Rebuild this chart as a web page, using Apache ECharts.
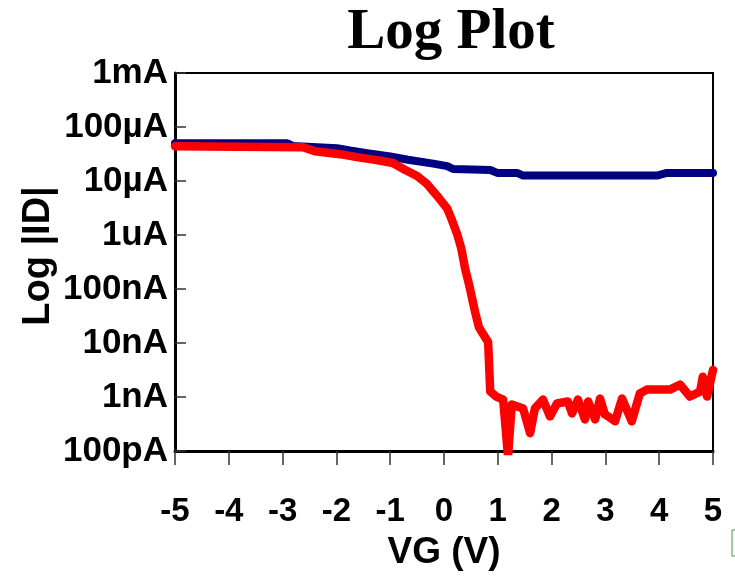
<!DOCTYPE html>
<html>
<head>
<meta charset="utf-8">
<script src="https://cdn.jsdelivr.net/npm/echarts@6/dist/echarts.min.js"></script>
<style>
  html, body { margin: 0; padding: 0; background: #fff; }
  #chart { width: 735px; height: 576px; }
</style>
</head>
<body>
<div id="chart"></div>
<script>
// Gate voltage sweep (V) and drain current magnitude (A)
const vgBlue = [-5.00, -2.92, -2.81, -1.99, -1.75, -1.43, -1.00, -0.67, -0.20, 0.06, 0.17, 0.86, 0.99, 1.36, 1.47, 3.96, 4.14, 5.00];
const idBlue = [5.0e-5, 5.0e-5, 4.46e-5, 4.05e-5, 3.67e-5, 3.28e-5, 2.85e-5, 2.47e-5, 2.10e-5, 1.89e-5, 1.67e-5, 1.60e-5, 1.41e-5, 1.41e-5, 1.26e-5, 1.26e-5, 1.41e-5, 1.41e-5];

const vgRed = [-5.00, -2.62, -2.40, -1.93, -1.62, -1.25, -0.95, -0.72, -0.50, -0.32, -0.13, 0.06, 0.15, 0.24, 0.32, 0.39, 0.48, 0.58, 0.65, 0.74, 0.82, 0.86, 0.97, 1.10, 1.19, 1.26, 1.47, 1.60, 1.69, 1.84, 1.97, 2.10, 2.30, 2.38, 2.49, 2.62, 2.68, 2.81, 2.90, 2.99, 3.05, 3.18, 3.31, 3.49, 3.64, 3.77, 4.20, 4.39, 4.57, 4.76, 4.81, 4.89, 5.00];
const idRed = [4.41e-5, 4.23e-5, 3.57e-5, 3.14e-5, 2.77e-5, 2.44e-5, 2.15e-5, 1.60e-5, 1.24e-5, 8.87e-6, 5.35e-6, 3.08e-6, 1.86e-6, 1.07e-6, 5.70e-7, 2.45e-7, 1.05e-7, 3.67e-8, 1.95e-8, 1.39e-8, 1.04e-8, 1.26e-9, 1.02e-9, 8.97e-10, 8.0e-11, 7.26e-10, 6.14e-10, 2.14e-10, 6.14e-10, 8.97e-10, 4.38e-10, 7.58e-10, 8.24e-10, 4.97e-10, 8.97e-10, 3.85e-10, 8.24e-10, 3.85e-10, 9.35e-10, 4.76e-10, 4.38e-10, 3.55e-10, 9.35e-10, 3.55e-10, 1.16e-9, 1.37e-9, 1.37e-9, 1.69e-9, 1.02e-9, 1.26e-9, 2.37e-9, 1.02e-9, 3.18e-9];

// Current tick labels, from 1e-10 A up to 1e-3 A
const currentExponents = [-10, -9, -8, -7, -6, -5, -4, -3];
const currentLabels = ['100pA', '1nA', '10nA', '100nA', '1uA', '10µA', '100µA', '1mA'];

const pair = (xs, ys) => xs.map((x, i) => [x, ys[i]]);

const chart = echarts.init(document.getElementById('chart'), null, { renderer: 'canvas' });

const sans = '"Liberation Sans", Arial, Helvetica, sans-serif';

chart.setOption({
  animation: false,
  backgroundColor: '#fff',
  title: {
    text: 'Log Plot',
    left: 446,
    top: 0,
    textAlign: 'center',
    textStyle: {
      fontFamily: '"Liberation Serif", "Times New Roman", serif',
      fontWeight: 'bold',
      fontSize: 57,
      color: '#000'
    }
  },
  grid: {
    left: 175, right: 22, top: 73, bottom: 121,
    show: true, borderColor: '#000', borderWidth: 2, backgroundColor: 'transparent'
  },
  xAxis: {
    type: 'value',
    min: -5, max: 5, interval: 1,
    name: 'VG (V)',
    nameLocation: 'middle',
    nameGap: 83,
    nameMoveOverlap: false,
    nameTextStyle: { fontFamily: sans, fontWeight: 'bold', fontSize: 37, color: '#000' },
    axisLine: { show: true, onZero: false, lineStyle: { color: '#000', width: 3 } },
    axisTick: { show: true, inside: false, length: 14, lineStyle: { color: '#333', width: 1.5 } },
    axisLabel: { margin: 44, fontFamily: sans, fontWeight: 'bold', fontSize: 33, color: '#000' },
    splitLine: { show: false }
  },
  yAxis: {
    type: 'log',
    logBase: 10,
    min: 1e-10, max: 1e-3,
    name: 'Log |ID|',
    nameLocation: 'middle',
    nameGap: 117,
    nameRotate: 90,
    nameMoveOverlap: false,
    nameTextStyle: { fontFamily: sans, fontWeight: 'bold', fontSize: 38, color: '#000', padding: [0, 0, 0, 12] },
    axisLine: { show: true, onZero: false, lineStyle: { color: '#000', width: 3 } },
    axisTick: { show: true, inside: true, length: 11, lineStyle: { color: '#333', width: 1.5 } },
    minorTick: { show: false },
    axisLabel: {
      margin: 7,
      fontFamily: sans, fontWeight: 'bold', fontSize: 35, color: '#000',
      formatter: v => {
        const e = Math.round(Math.log10(v));
        const k = currentExponents.indexOf(e);
        return k >= 0 ? currentLabels[k] : '';
      }
    },
    splitLine: { show: false }
  },
  series: [
    {
      name: 'device A',
      type: 'line',
      data: pair(vgBlue, idBlue),
      showSymbol: false,
      clip: true,
      lineStyle: { color: '#000080', width: 8, cap: 'round', join: 'round' },
      z: 2
    },
    {
      name: 'device B',
      type: 'line',
      data: pair(vgRed, idRed),
      showSymbol: false,
      clip: true,
      lineStyle: { color: '#ff0000', width: 8.5, cap: 'round', join: 'round' },
      z: 3
    }
  ],
  graphic: [
    {
      type: 'polyline',
      shape: { points: [[735, 530], [732, 530], [732, 556], [735, 556]] },
      style: { stroke: '#3a9a3a', lineWidth: 1, fill: null }
    }
  ]
});
</script>
</body>
</html>
